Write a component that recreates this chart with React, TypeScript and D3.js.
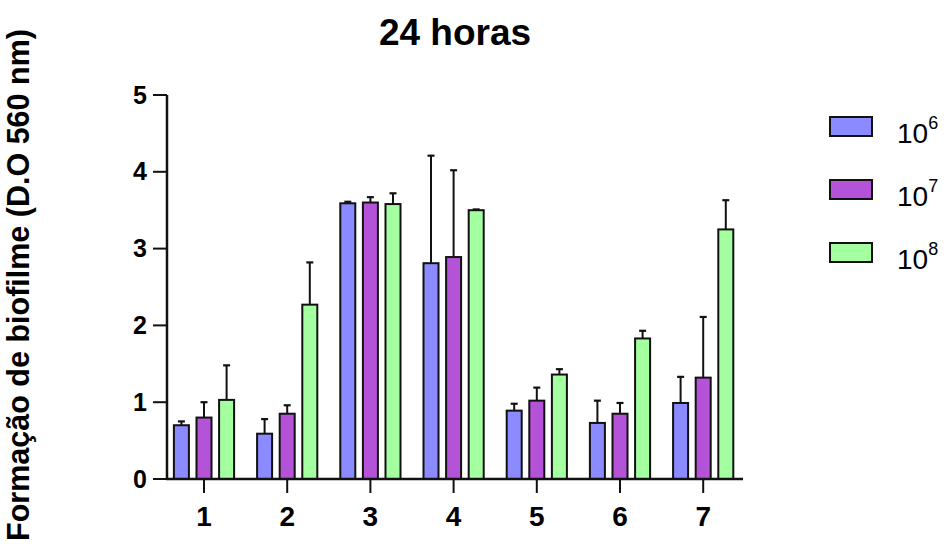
import React from "react";
import * as d3 from "d3";

const categories = ["1", "2", "3", "4", "5", "6", "7"];
const seriesNames = ["6", "7", "8"];
const series1e6 = [0.70, 0.59, 3.59, 2.81, 0.89, 0.73, 0.99];
const series1e6Err = [0.05, 0.19, 0.02, 1.40, 0.09, 0.29, 0.34];
const series1e7 = [0.80, 0.85, 3.60, 2.89, 1.02, 0.85, 1.32];
const series1e7Err = [0.20, 0.11, 0.07, 1.13, 0.17, 0.14, 0.79];
const series1e8 = [1.03, 2.27, 3.58, 3.50, 1.36, 1.83, 3.25];
const series1e8Err = [0.45, 0.55, 0.14, 0.01, 0.07, 0.10, 0.38];
const yTicks = [0, 1, 2, 3, 4, 5];
const colors = ["#8B8BFF", "#B553D8", "#A3FF9F"];

const values = [series1e6, series1e7, series1e8];
const errs = [series1e6Err, series1e7Err, series1e8Err];

export default function App() {
  const W = 946, H = 547;
  const x = d3.scaleBand().domain(categories).range([162.4, 744.8]).padding(0);
  const bw = x.bandwidth();
  const sub = d3
    .scaleBand()
    .domain(seriesNames)
    .range([bw / 2 - 33.9, bw / 2 + 33.9])
    .paddingInner(0.336)
    .paddingOuter(0.168);
  const y = d3.scaleLinear().domain([0, 5]).range([479, 95]);
  const axisX0 = 167, axisX1 = 743;
  const font = "Liberation Sans, Arial, Helvetica, sans-serif";

  return (
    <svg width={W} height={H} style={{ position: "absolute", left: 0, top: 0, background: "#fff" }}>
      <rect width={W} height={H} fill="#fff" />
      <text x={455} y={45} textAnchor="middle" fontFamily={font} fontWeight="bold" fontSize={37}>
        24 horas
      </text>
      <text
        transform={`translate(29,${285}) rotate(-90)`}
        textAnchor="middle"
        fontFamily={font}
        fontWeight="bold"
        fontSize={30.5}
      >
        Formação de biofilme (D.O 560 nm)
      </text>
      {/* bars */}
      {values.map((vals, si) =>
        vals.map((v, ci) => {
          const bx = (x(categories[ci]) as number) + (sub(seriesNames[si]) as number);
          const w = sub.bandwidth();
          const cx = bx + w / 2;
          const top = y(v);
          const et = y(v + errs[si][ci]);
          return (
            <g key={`${si}-${ci}`}>
              <line x1={cx} x2={cx} y1={top} y2={et} stroke="#111" strokeWidth={2} />
              <line x1={cx - 3.5} x2={cx + 3.5} y1={et} y2={et} stroke="#111" strokeWidth={2.2} />
              <rect x={bx} y={top} width={w} height={y(0) - top} fill={colors[si]} stroke="#111" strokeWidth={2} />
            </g>
          );
        })
      )}
      {/* y axis */}
      <line x1={axisX0} x2={axisX0} y1={y(5)} y2={y(0)} stroke="#111" strokeWidth={2.5} />
      {yTicks.map((t) => (
        <g key={t}>
          <line x1={axisX0 - 14} x2={axisX0} y1={y(t)} y2={y(t)} stroke="#111" strokeWidth={2} />
          <text x={147} y={y(t) + 8.5} textAnchor="end" fontFamily={font} fontWeight="bold" fontSize={25}>
            {t}
          </text>
        </g>
      ))}
      {/* x axis */}
      <line x1={axisX0 - 1} x2={axisX1} y1={y(0)} y2={y(0)} stroke="#111" strokeWidth={2.5} />
      {categories.map((c) => {
        const cx = (x(c) as number) + bw / 2;
        return (
          <g key={c}>
            <line x1={cx} x2={cx} y1={y(0)} y2={y(0) + 14} stroke="#111" strokeWidth={2} />
            <text x={cx} y={526} textAnchor="middle" fontFamily={font} fontWeight="bold" fontSize={28}>
              {c}
            </text>
          </g>
        );
      })}
      {/* legend */}
      {seriesNames.map((s, i) => {
        const ly = 117 + i * 63;
        return (
          <g key={s}>
            <rect x={830} y={ly} width={42} height={19} fill={colors[i]} stroke="#111" strokeWidth={2} />
            <text x={897} y={ly + 26} fontFamily={font} fontSize={28}>
              10
              <tspan dy={-14} fontSize={18}>{s}</tspan>
            </text>
          </g>
        );
      })}
    </svg>
  );
}
